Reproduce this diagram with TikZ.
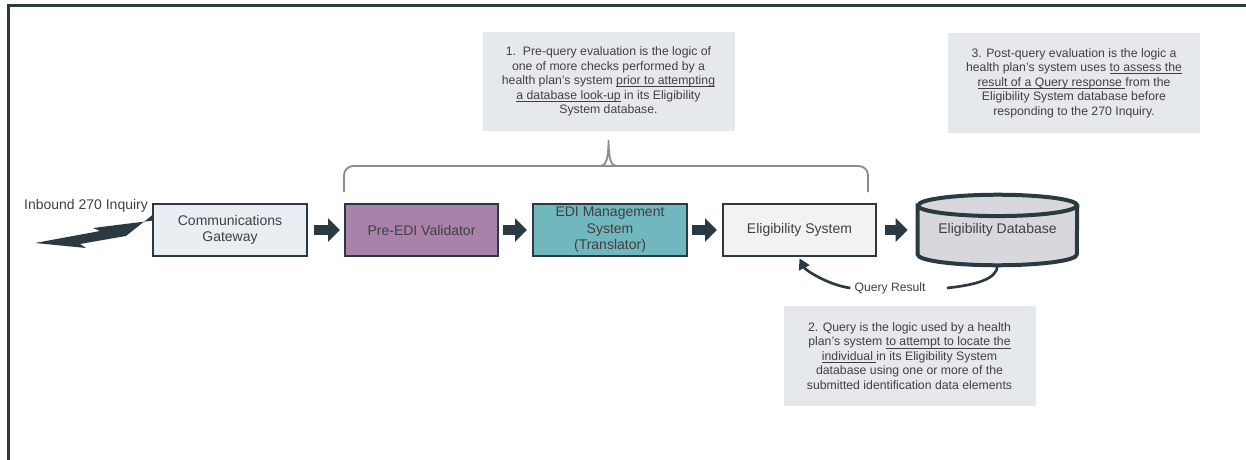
\documentclass[tikz,border=0pt]{standalone}
\usepackage{fontspec}
\setmainfont{Liberation Sans}
\usetikzlibrary{arrows.meta,backgrounds,calc}
\definecolor{ink}{HTML}{2B3A42}
\definecolor{txt}{HTML}{404040}
\definecolor{gwfill}{HTML}{E9EEF3}
\definecolor{prefill}{HTML}{A882AA}
\definecolor{edifill}{HTML}{70B7BE}
\definecolor{esfill}{HTML}{F2F2F3}
\definecolor{dbfill}{HTML}{D8D7DB}
\definecolor{notebg}{HTML}{E6E9EC}
\definecolor{bracegray}{HTML}{8C8C8C}
\newsavebox\ulbox
\newcommand\ulx[1]{\sbox\ulbox{#1}\rlap{\rule[-1.8pt]{\wd\ulbox}{0.55pt}}\usebox\ulbox}
\begin{document}
\begin{tikzpicture}[x=0.75pt,y=-0.75pt,
  box/.style={draw=ink, line width=1.5pt, minimum width=115.5pt, minimum height=39pt,
    inner sep=0pt, align=center, text=txt, font=\fontsize{10.5pt}{12.4pt}\selectfont},
  note/.style={fill=notebg, minimum width=189pt, minimum height=74.5pt, inner sep=0pt,
    align=center, text=txt, font=\fontsize{9.2pt}{10.9pt}\selectfont},
  blk/.style={draw=ink, line width=7.5pt, -{Triangle[length=9pt,width=17.25pt]}},
  bracestyle/.style={draw=bracegray, line width=1.4pt},
  flow/.style={draw=ink, line width=2pt},
  lbl/.style={text=txt, inner sep=1pt}]
\useasboundingbox (0,0) rectangle (1246,460);

% frame
\draw[ink, line width=2.25pt] (8,460) -- (8,6) -- (1246,6);

% main boxes
\node[box, fill=gwfill] (gw) at (230,230) {Communications\\Gateway};
\node[box, fill=prefill, minimum width=114.75pt] (pre) at (421.5,230) {Pre-EDI Validator};
\node[box, fill=edifill] (edi) at (610,230) {EDI Management\\System\\(Translator)};
\node[box, fill=esfill, minimum width=114.75pt] (es) at (799.5,230) {Eligibility System};

% database cylinder
\node[minimum width=119.25pt, minimum height=52.5pt, inner sep=0pt, text=txt,
      font=\fontsize{10.5pt}{12.4pt}\selectfont] (db) at (997.5,230) {Eligibility Database};
\begin{scope}[on background layer]
  \draw[ink, line width=3pt, fill=dbfill]
    ([yshift=-8pt]db.north west) -- ([yshift=8pt]db.south west)
    arc[start angle=180, end angle=360, x radius=59.625pt, y radius=8pt]
    -- ([yshift=-8pt]db.north east)
    arc[start angle=0, end angle=180, x radius=59.625pt, y radius=8pt] -- cycle;
  \draw[ink, line width=3pt] ([yshift=-8pt]db.north west)
    arc[start angle=180, end angle=360, x radius=59.625pt, y radius=8pt];
\end{scope}

% block arrows
\draw[blk, shorten <=4.5pt, shorten >=3pt] (gw.east) -- (pre.west);
\draw[blk, shorten <=3pt, shorten >=3.75pt] (pre.east) -- (edi.west);
\draw[blk, shorten <=3pt, shorten >=3.75pt] (edi.east) -- (es.west);
\draw[blk, shorten <=6pt, shorten >=7.5pt] (es.east) -- (db.west);

% inbound label and lightning bolt
\node[lbl, font=\fontsize{10.5pt}{12.4pt}\selectfont] (inb) at (86,206) {Inbound 270 Inquiry};
\coordinate (tip) at ([yshift=7pt]gw.west);
\fill[ink] (tip) -- (93,228) -- (100,231) -- (35,243) -- (86,248) -- (80,244)
  -- (126,236) -- ([yshift=4pt]tip) -- cycle;

% query result
\node[lbl, font=\fontsize{9.1pt}{10.9pt}\selectfont] (qr) at (890,288) {Query Result};
\draw[flow] ([xshift=15pt]qr.east) .. controls +(28,-3) and +(0,14) .. (db.south);
\draw[flow, -{Triangle[length=8pt,width=8.5pt]}] ([xshift=-2pt]qr.west)
  .. controls +(-22,-3) and +(6,12) .. ([yshift=-1pt]es.south);

% notes
\node[note] (n1) at (608.5,81.5) {1.\ \ Pre-query evaluation is the logic of\\
  one of more checks performed by a\\
  health plan’s system \ulx{prior to attempting}\\
  \ulx{a database look-up} in its Eligibility\\
  System database.};
\node[note] (n3) at (1074,83) {3. Post-query evaluation is the logic a\\
  health plan’s system uses \ulx{to assess the}\\
  \ulx{result of a Query response }from the\\
  Eligibility System database before\\
  responding to the 270 Inquiry.};
\node[note] (n2) at (909.5,356) {2. Query is the logic used by a health\\
  plan’s system \ulx{to attempt to locate the}\\
  \ulx{individual }in its Eligibility System\\
  database using one or more of the\\
  submitted identification data elements};

% brace
\coordinate (bl) at (pre.west |- 0,192);
\coordinate (br) at (868,192);
\coordinate (peak) at (n1.south |- 0,140);
\draw[bracestyle, rounded corners=7pt] (bl) |- (peak |- 0,166) -| (br);
\draw[bracestyle] ([xshift=-6pt]peak |- 0,166) .. controls +(5,0) and +(0,20) .. (peak)
  .. controls +(0,20) and +(-5,0) .. ([xshift=6pt]peak |- 0,166);
\end{tikzpicture}
\end{document}
